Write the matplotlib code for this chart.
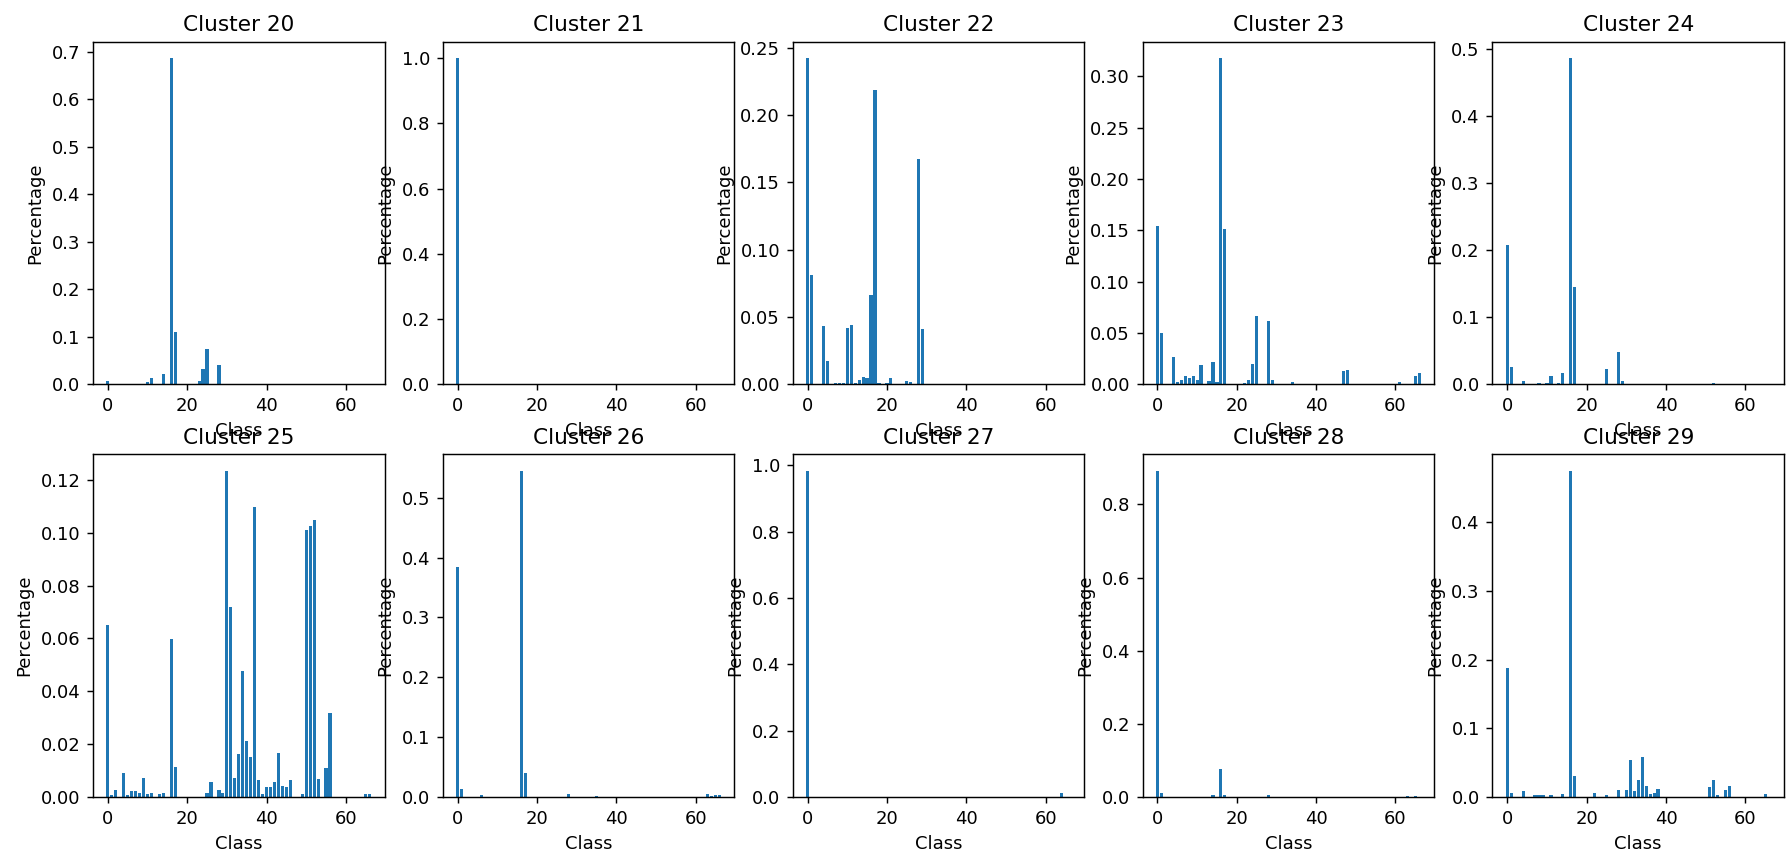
import matplotlib

matplotlib.use("Agg")
import matplotlib.pyplot as plt
import numpy as np

N_CLASSES = 67
CLUSTER_IDS = [20, 21, 22, 23, 24, 25, 26, 27, 28, 29]

# class index -> share of the cluster (classes not listed are zero)
CLUSTER_20 = {0: 0.007, 10: 0.004, 11: 0.013, 14: 0.022, 16: 0.687, 17: 0.111,
              23: 0.007, 24: 0.033, 25: 0.074, 28: 0.041}
CLUSTER_21 = {0: 1.0}
CLUSTER_22 = {0: 0.2424, 1: 0.081, 4: 0.043, 5: 0.017, 7: 0.001, 8: 0.001, 9: 0.001,
              10: 0.042, 11: 0.044, 12: 0.001, 13: 0.0035, 14: 0.0057, 15: 0.0047,
              16: 0.066, 17: 0.219, 18: 0.001, 20: 0.001, 21: 0.0047, 25: 0.0025,
              26: 0.0015, 28: 0.167, 29: 0.041}
CLUSTER_23 = {0: 0.154, 1: 0.050, 4: 0.027, 5: 0.002, 6: 0.0045, 7: 0.0085, 8: 0.006,
              9: 0.0085, 10: 0.0045, 11: 0.019, 13: 0.0035, 14: 0.022, 15: 0.002,
              16: 0.318, 17: 0.151, 22: 0.0015, 23: 0.0045, 24: 0.020, 25: 0.067,
              28: 0.062, 29: 0.0045, 34: 0.002, 47: 0.0127, 48: 0.014, 61: 0.002,
              65: 0.0085, 66: 0.011}
CLUSTER_24 = {0: 0.208, 1: 0.025, 4: 0.005, 8: 0.0025, 10: 0.0025, 11: 0.013,
              13: 0.0025, 14: 0.017, 16: 0.486, 17: 0.145, 25: 0.023, 28: 0.048,
              29: 0.005, 52: 0.0025}
CLUSTER_25 = {0: 0.0649, 1: 0.0006, 2: 0.0027, 4: 0.009, 5: 0.0006, 6: 0.0021,
              7: 0.0021, 8: 0.0016, 9: 0.0073, 10: 0.0011, 11: 0.0016, 13: 0.0011,
              14: 0.0016, 16: 0.0597, 17: 0.0115, 25: 0.0016, 26: 0.0058, 28: 0.0027,
              29: 0.0016, 30: 0.1234, 31: 0.072, 32: 0.0073, 33: 0.0163, 34: 0.0478,
              35: 0.0213, 36: 0.0151, 37: 0.1098, 38: 0.0063, 39: 0.0011, 40: 0.0037,
              41: 0.0037, 42: 0.0058, 43: 0.0167, 44: 0.0043, 45: 0.0037, 46: 0.0063,
              49: 0.0011, 50: 0.101, 51: 0.1025, 52: 0.1046, 53: 0.0068, 55: 0.011,
              56: 0.0317, 65: 0.0011, 66: 0.0011}
CLUSTER_26 = {0: 0.384, 1: 0.014, 6: 0.003, 16: 0.545, 17: 0.040, 28: 0.0045,
              35: 0.002, 63: 0.0045, 64: 0.002, 65: 0.003, 66: 0.003}
CLUSTER_27 = {0: 0.983, 64: 0.013}
CLUSTER_28 = {0: 0.892, 1: 0.012, 14: 0.0045, 16: 0.076, 17: 0.0045, 28: 0.0045,
              63: 0.004, 65: 0.004}
CLUSTER_29 = {0: 0.1876, 1: 0.0063, 4: 0.0083, 7: 0.0024, 8: 0.0024, 9: 0.0024,
              11: 0.0024, 14: 0.0044, 16: 0.475, 17: 0.030, 22: 0.0063, 25: 0.0024,
              28: 0.0102, 30: 0.0102, 31: 0.054, 32: 0.0083, 33: 0.0243, 34: 0.0578,
              35: 0.016, 36: 0.0044, 37: 0.0063, 38: 0.0122, 51: 0.014, 52: 0.0243,
              53: 0.0024, 55: 0.0102, 56: 0.016, 65: 0.0044}

CLUSTERS = [CLUSTER_20, CLUSTER_21, CLUSTER_22, CLUSTER_23, CLUSTER_24,
            CLUSTER_25, CLUSTER_26, CLUSTER_27, CLUSTER_28, CLUSTER_29]


def to_dense(shares: dict[int, float]) -> np.ndarray:
    out = np.zeros(N_CLASSES)
    for cls, val in shares.items():
        out[cls] = val
    return out


def main() -> None:
    dpi = 130
    fig, axes = plt.subplots(2, 5, figsize=(1787 / dpi, 865 / dpi), dpi=dpi)
    fig.subplots_adjust(left=93 / 1787, right=1784 / 1787, top=1 - 41.7 / 865,
                        bottom=1 - 797 / 865, wspace=0.2, hspace=0.205)
    classes = np.arange(N_CLASSES)
    for ax, cid, shares in zip(axes.flat, CLUSTER_IDS, CLUSTERS):
        ax.bar(classes, to_dense(shares))
        ax.set_title(f"Cluster {cid}")
        ax.set_xlabel("Class")
        ax.set_ylabel("Percentage")
    fig.savefig("out.png", dpi=dpi)
    plt.close(fig)


if __name__ == "__main__":
    main()
